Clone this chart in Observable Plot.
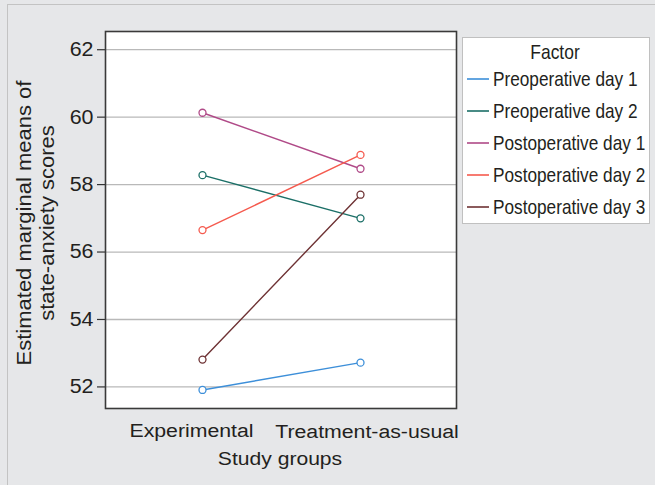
<!DOCTYPE html>
<html>
<head>
<meta charset="utf-8">
<script src="https://cdn.jsdelivr.net/npm/d3@7"></script>
<script src="https://cdn.jsdelivr.net/npm/@observablehq/plot@0.6"></script>
<style>
  html, body { margin: 0; padding: 0; }
  body { width: 655px; height: 485px; background: #e6e7e9; position: relative; overflow: hidden;
         font-family: "Liberation Sans", Arial, sans-serif; color: #231f20; }
  #border { position: absolute; left: 7px; top: 4px; right: -2px; bottom: -2px; border-left: 1.5px solid #c3c3c3; border-top: 1.5px solid #c3c3c3; }
  #chart { position: absolute; left: 0; top: 0; }
  #ytitle { position: absolute; left: 36px; top: 223px; transform: translate(-50%, -50%) rotate(-90deg) scaleX(1.1);
            white-space: nowrap; text-align: center; font-size: 20px; line-height: 22.6px; }
  #xtitle { position: absolute; left: 280px; top: 449px; line-height: 19px; transform: translateX(-50%) scaleX(1.11); white-space: nowrap; font-size: 19px; }
  #legend { position: absolute; left: 462px; top: 37px; width: 188px; height: 187px; background: #fff; border: 1.5px solid #c0c0c0; box-sizing: border-box; }
  #legend .ttl { position: absolute; left: 92px; top: 2.5px; line-height: 21px; transform: translateX(-50%) scaleX(0.83); font-size: 21px; white-space: nowrap; }
  #legend svg.sw { position: absolute; left: 4px; width: 22px; height: 4px; overflow: visible; }
  #legend .lb { position: absolute; left: 29.5px; line-height: 21px; transform: scaleX(0.82); transform-origin: 0 50%; font-size: 21px; white-space: nowrap; }
</style>
</head>
<body>
<div id="border"></div>
<div id="chart"></div>
<div id="ytitle">Estimated marginal means of<br>state-anxiety scores</div>
<div id="xtitle">Study groups</div>
<div id="legend"></div>
<script>
const groups = ["Experimental", "Treatment-as-usual"];
const factors = ["Preoperative day 1", "Preoperative day 2", "Postoperative day 1", "Postoperative day 2", "Postoperative day 3"];
const colors = ["#3d8fd9", "#1b6f67", "#b04a88", "#f55a4e", "#6e3234"];
const experimental = [51.91, 58.28, 60.13, 56.65, 52.81];
const treatmentAsUsual = [52.72, 57.0, 58.47, 58.88, 57.70];
const yTicks = [52, 54, 56, 58, 60, 62];

const data = [];
factors.forEach((f, i) => {
  data.push({factor: f, group: groups[0], value: experimental[i]});
  data.push({factor: f, group: groups[1], value: treatmentAsUsual[i]});
});

const plot = Plot.plot({
  width: 655,
  height: 485,
  marginLeft: 105,
  marginRight: 199,
  marginTop: 31,
  marginBottom: 77,
  style: {background: "transparent", fontFamily: '"Liberation Sans", Arial, sans-serif', color: "#231f20"},
  x: {type: "point", domain: groups, padding: 0.61, label: null},
  y: {domain: [51.36, 62.54], label: null},
  color: {domain: factors, range: colors},
  marks: [
    Plot.frame({fill: "white"}),
    Plot.gridY(yTicks, {stroke: "#b9b9b9", strokeOpacity: 1, strokeWidth: 1.3}),
    Plot.axisY(yTicks, {tickSize: 8, tickPadding: 4, fontSize: 20, stroke: "#333", strokeWidth: 1.2, label: null}),
    Plot.axisX([groups[0]], {tickSize: 0, tickPadding: 3, dx: -11, dy: 12, fontSize: 19, label: null}),
    Plot.axisX([groups[1]], {tickSize: 0, tickPadding: 3, dx: 6.5, dy: 13, fontSize: 19, label: null}),
    Plot.line(data, {x: "group", y: "value", z: "factor", stroke: "factor", strokeWidth: 1.4}),
    Plot.dot(data, {x: "group", y: "value", stroke: "factor", fill: "white", r: 3.5, strokeWidth: 1.3}),
    Plot.frame({stroke: "#3a3a3a", strokeWidth: 1.6})
  ]
});
// horizontal scaling of tick labels to match the reference's letter widths
function stretch(sel, k) {
  d3.select(plot).selectAll(sel).each(function () {
    const x = +this.getAttribute("x") || 0, y = +this.getAttribute("y") || 0;
    const tr = this.getAttribute("transform") || "";
    this.setAttribute("transform", `${tr} translate(${x},${y}) scale(${k},1) translate(${-x},${-y})`);
  });
}
stretch('g[aria-label="x-axis tick label"] text', 1.12);
stretch('g[aria-label="y-axis tick label"] text', 1.07);
document.getElementById("chart").appendChild(plot);

const leg = document.getElementById("legend");
const t = document.createElement("div"); t.className = "ttl"; t.textContent = "Factor"; leg.appendChild(t);
const ns = "http://www.w3.org/2000/svg";
factors.forEach((f, i) => {
  const base = 48.2 + i * 32; // baseline inside legend box
  const sw = document.createElementNS(ns, "svg"); sw.setAttribute("class", "sw");
  sw.style.top = Math.round(base - 9.5) + "px";
  const ln = document.createElementNS(ns, "line");
  ln.setAttribute("x1", 0); ln.setAttribute("x2", 22); ln.setAttribute("y1", 2); ln.setAttribute("y2", 2);
  ln.setAttribute("stroke", colors[i]); ln.setAttribute("stroke-width", 1.6);
  sw.appendChild(ln);
  const lb = document.createElement("div"); lb.className = "lb"; lb.textContent = f; lb.style.top = (base - 17.8) + "px";
  leg.appendChild(sw); leg.appendChild(lb);
});
</script>
</body>
</html>
